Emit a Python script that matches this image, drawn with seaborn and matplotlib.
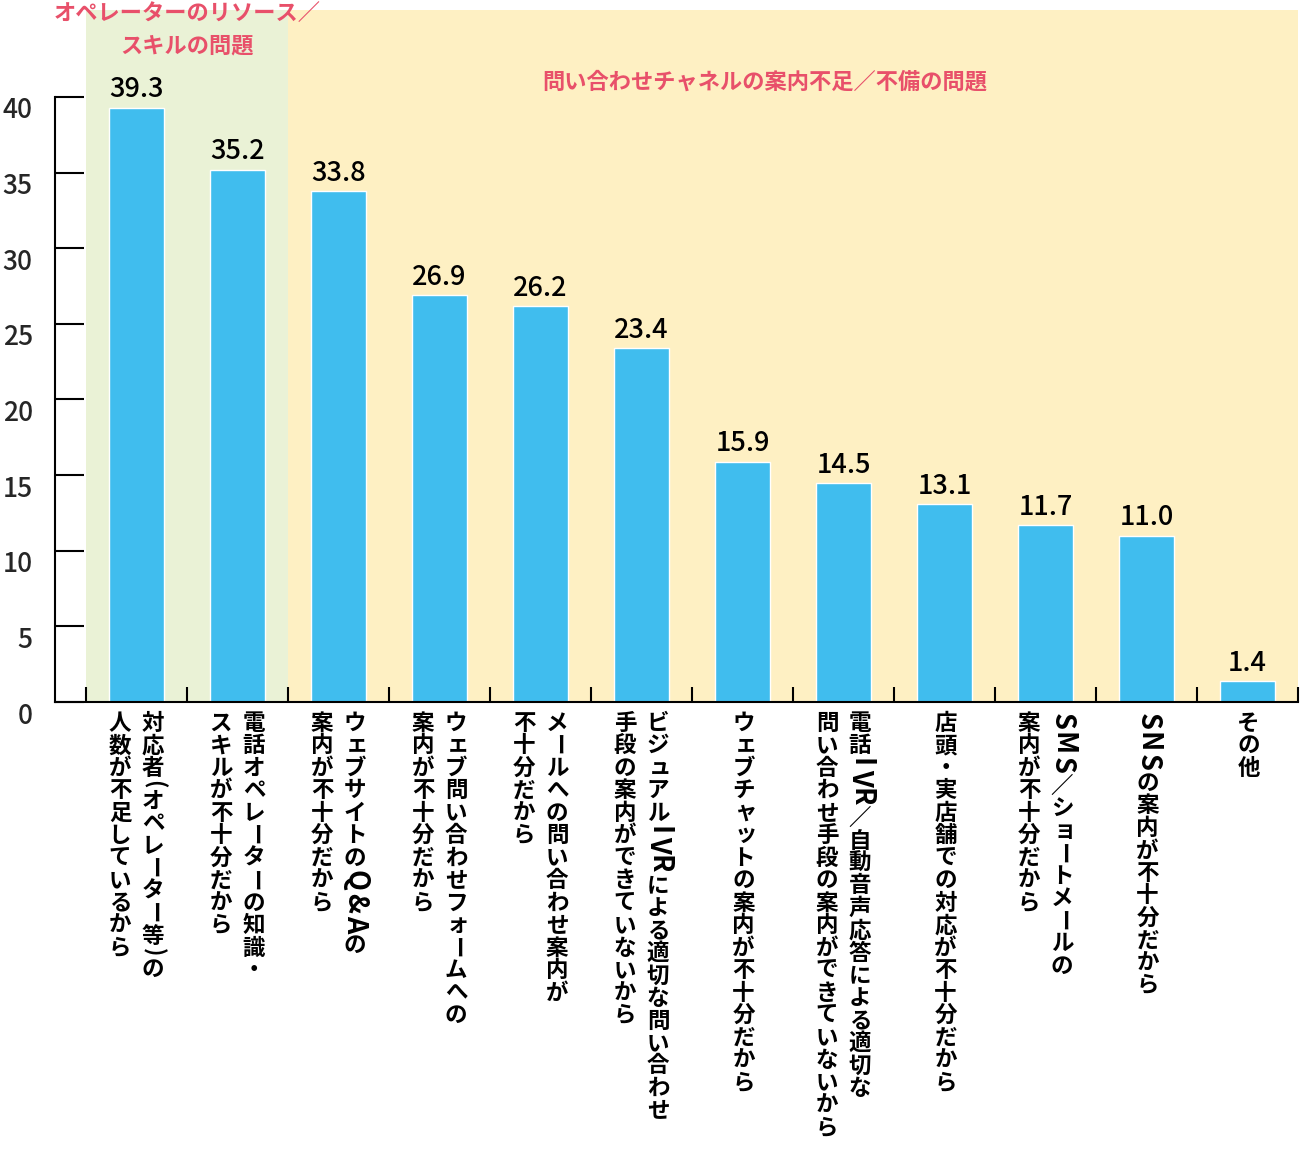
import numpy as np
import pandas as pd
import matplotlib
matplotlib.use("Agg")
import matplotlib.pyplot as plt
import seaborn as sns
from matplotlib.transforms import ScaledTranslation
from matplotlib.font_manager import FontProperties

# ---------------- data ----------------
categories = [
    "対応者（オペレーター等）の\n人数が不足しているから",
    "電話オペレーターの知識・\nスキルが不十分だから",
    "ウェブサイトのQ&Aの\n案内が不十分だから",
    "ウェブ問い合わせフォームへの\n案内が不十分だから",
    "メールへの問い合わせ案内が\n不十分だから",
    "ビジュアルIVRによる適切な問い合わせ\n手段の案内ができていないから",
    "ウェブチャットの案内が不十分だから",
    "電話IVR／自動音声応答による適切な\n問い合わせ手段の案内ができていないから",
    "店頭・実店舗での対応が不十分だから",
    "SMS／ショートメールの\n案内が不十分だから",
    "SNSの案内が不十分だから",
    "その他",
]
values = [39.3, 35.2, 33.8, 26.9, 26.2, 23.4, 15.9, 14.5, 13.1, 11.7, 11.0, 1.4]
yticks = [0, 5, 10, 15, 20, 25, 30, 35, 40]
group_names = ["オペレーターのリソース／\nスキルの問題", "問い合わせチャネルの案内不足／不備の問題"]
group_spans = [(0, 1), (2, 11)]  # first / last category index of each group

# ---------------- style ----------------
BLUE = "#40BDEE"
GREEN = "#EAF2D6"
YELLOW = "#FEF0C3"
RED = "#E8506A"
DPI = 100
FAM = ["Noto Sans CJK JP", "DejaVu Sans"]

sns.set_theme(style="white")
plt.rcParams["font.family"] = FAM

fig = plt.figure(figsize=(13, 11.5), dpi=DPI)
W, H = 1300, 1150
ax = fig.add_axes([55 / W, (H - 702) / H, (1298 - 55) / W, (702 - 10) / H])

df = pd.DataFrame({"cat": categories, "val": values})
sns.barplot(data=df, x="cat", y="val", color=BLUE, saturation=1, width=0.55,
            ax=ax, zorder=2)

n = len(categories)
ax.axvspan(group_spans[0][0] - 0.5, group_spans[0][1] + 0.5, color=GREEN, lw=0, zorder=0)
ax.axvspan(group_spans[1][0] - 0.5, group_spans[1][1] + 0.5, color=YELLOW, lw=0, zorder=0)

ax.set_xlim(-0.807, n - 0.5)
ax.set_ylim(0, 45.75)
ax.set_xlabel("")
ax.set_ylabel("")
ax.set_facecolor("white")

# spines
for s in ["top", "right"]:
    ax.spines[s].set_visible(False)
for s in ["left", "bottom"]:
    ax.spines[s].set_color("black")
    ax.spines[s].set_linewidth(1.5)
    ax.spines[s].set_zorder(5)
ax.spines["left"].set_bounds(0, 40)

# ticks
ax.set_xticks(np.arange(-0.5, n, 1.0), labels=[""] * (n + 1))
ax.tick_params(axis="x", direction="in", length=10.8, width=1.5, color="black", bottom=True)
ax.set_yticks(yticks, labels=[str(v) for v in yticks])
ax.tick_params(axis="y", direction="in", length=21, width=1.5, color="black",
               pad=16, labelsize=19, left=True)
offset = ScaledTranslation(0, -11 / DPI, fig.dpi_scale_trans)
for lab in ax.get_yticklabels():
    lab.set_transform(lab.get_transform() + offset)
    lab.set_fontweight("medium")

# value labels
ax.bar_label(ax.containers[0], fmt="%.1f", padding=3, fontsize=19.5,
             fontweight="medium", color="black")

# ---------------- vertical category labels ----------------
FS = 16.2
ADV = FS * DPI / 72.0  # px per character cell
LATIN_FS = 19.5
LATIN_GAP = 2.0
renderer = fig.canvas.get_renderer()
fp = FontProperties(family=FAM, size=FS, weight="bold")
fp_lat = FontProperties(family=FAM, size=LATIN_FS, weight="bold")
ROTATE = set("ー")
HALF = {"（": "(", "）": ")"}
SMALL = set("ァィゥェォッャュョぁぃぅぇぉっゃゅょ")
px2pt = 72.0 / DPI


def put(tok, xi, dx, cy, rot, prop):
    ax.annotate(tok, xy=(xi, 0), xycoords="data",
                xytext=(dx * px2pt, -cy * px2pt), textcoords="offset points",
                ha="center", va="center", rotation=rot, fontproperties=prop,
                color="black", annotation_clip=False)


for xi, lab in enumerate(categories):
    lines = lab.split("\n")
    col_dx = [16.5, -16.5] if len(lines) == 2 else [1.0]
    for col, line in enumerate(lines):
        dx = col_dx[col]
        y = 10.0
        for ch in line:
            if ch.isascii():
                w, h, d = renderer.get_text_width_height_descent(ch, fp_lat, ismath=False)
                step = w + LATIN_GAP
                put(ch, xi, dx, y + step / 2, -90, fp_lat)
                y += step
            elif ch in HALF:
                c = HALF[ch]
                w, h, d = renderer.get_text_width_height_descent(c, fp, ismath=False)
                step = w + 2
                put(c, xi, dx, y + step / 2, -90, fp)
                y += step
            else:
                rot = -90 if ch in ROTATE else 0
                ddx, ddy = (0.1 * ADV, 0.05 * ADV) if ch in SMALL else (0.0, 0.0)
                put(ch, xi, dx + ddx, y + ADV / 2 - ddy, rot, fp)
                y += ADV

# ---------------- group labels ----------------
ax.text((group_spans[0][0] + group_spans[0][1]) / 2, 46.25, group_names[0],
        ha="center", va="top", fontsize=16, fontweight="bold", color=RED,
        linespacing=1.5, clip_on=False, zorder=6)
ax.text(6.22, 41.0, group_names[1], ha="center", va="center", fontsize=16,
        fontweight="bold", color=RED, clip_on=False, zorder=6)

fig.savefig("out.png", dpi=DPI, facecolor="white")
